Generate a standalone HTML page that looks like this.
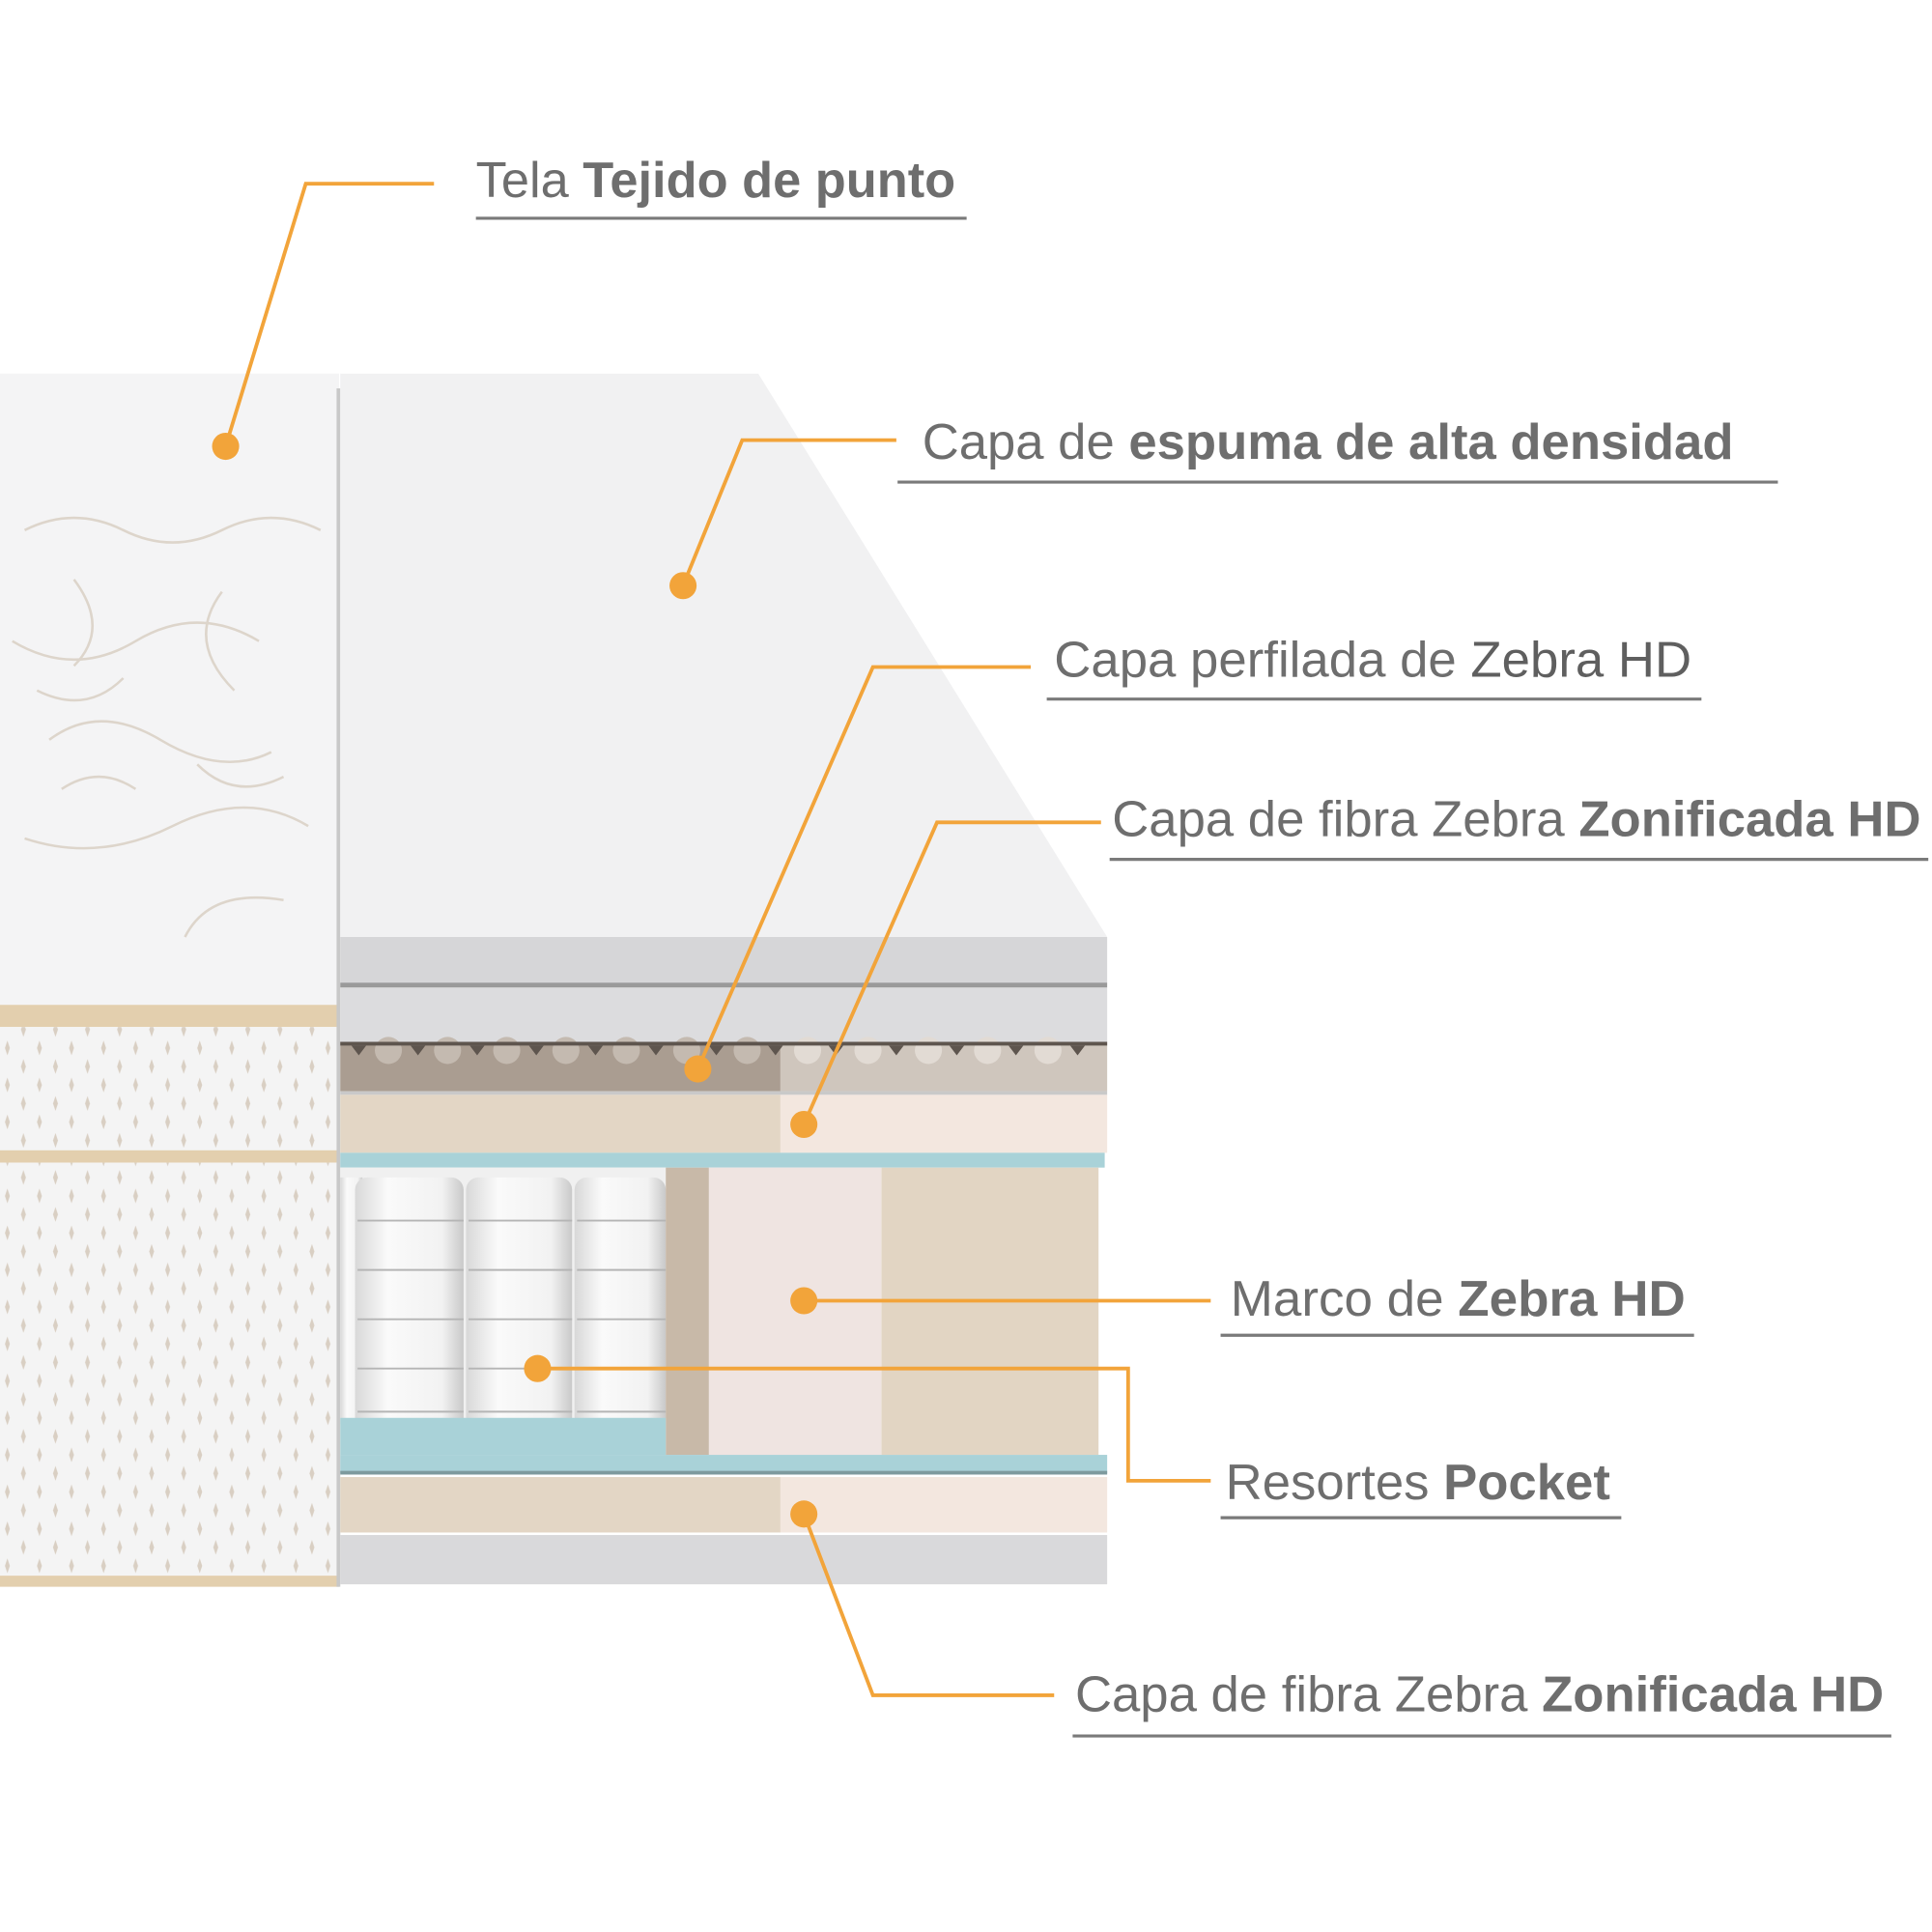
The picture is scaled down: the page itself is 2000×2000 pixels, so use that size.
<!DOCTYPE html>
<html><head><meta charset="utf-8"><style>
html,body{margin:0;padding:0;background:#fff}
svg{display:block}
text{font-family:"Liberation Sans",sans-serif;fill:#6e6e6e;font-size:41px}
.b{font-weight:bold}
</style></head><body>
<svg width="2000" height="2000" viewBox="0 0 1567 1567" xmlns="http://www.w3.org/2000/svg">
<defs>
<pattern id="mesh" width="26" height="30" patternUnits="userSpaceOnUse">
<rect width="26" height="30" fill="#f4f4f4"/>
<path d="M6 4 l2 6 l-2 6 l-2 -6z" fill="#d9cfc3"/>
<path d="M19 19 l2 6 l-2 6 l-2 -6z" fill="#d9cfc3"/>
<path d="M19 -11 l2 6 l-2 6 l-2 -6z" fill="#d9cfc3"/>
</pattern>
<linearGradient id="sp" x1="0" x2="1">
<stop offset="0" stop-color="#d8d8d8"/><stop offset="0.3" stop-color="#fafafa"/><stop offset="0.8" stop-color="#f2f2f2"/><stop offset="1" stop-color="#c9c9c9"/>
</linearGradient>
</defs>
<rect width="1567" height="1567" fill="#fff"/>
<!-- left quilted -->
<rect x="0" y="303" width="275" height="512" fill="#f4f4f5"/>
<g fill="none" stroke="#ddd5cb" stroke-width="2">
<path d="M20 430 q40 -20 80 0 t80 0 t80 0"/><path d="M10 520 q50 30 100 0 t100 0"/>
<path d="M40 600 q40 -30 90 0 t90 10"/><path d="M20 680 q60 20 120 -10 t110 0"/>
<path d="M60 470 q30 40 0 70"/><path d="M180 480 q-30 40 10 80"/><path d="M150 760 q20 -40 80 -30"/>
<path d="M30 560 q40 20 70 -10"/><path d="M160 620 q30 30 70 10"/><path d="M50 640 q30 -20 60 0"/>
</g>
<rect x="0" y="815" width="275" height="18" fill="#e3cfae"/>
<rect x="0" y="833" width="275" height="102" fill="url(#mesh)"/>
<rect x="0" y="933" width="275" height="10" fill="#e3cfae"/>
<rect x="0" y="943" width="275" height="337" fill="url(#mesh)"/>
<rect x="0" y="1278" width="275" height="9" fill="#e3cfae"/>
<rect x="273" y="315" width="3" height="972" fill="#c8c8c8"/>
<!-- trapezoid -->
<polygon points="276,303 615,303 898,760 276,760" fill="#f1f1f2"/>
<rect x="276" y="760" width="622" height="37" fill="#d6d6d8"/>
<rect x="276" y="797" width="622" height="4" fill="#9a9a9a"/>
<rect x="276" y="801" width="622" height="44" fill="#dcdcde"/>
<rect x="276" y="845" width="357" height="40" fill="#aa9d91"/>
<rect x="633" y="845" width="265" height="40" fill="#cfc6bd"/>
<g fill="#c4bab0">
<circle cx="315" cy="852" r="11"/><circle cx="363" cy="852" r="11"/><circle cx="411" cy="852" r="11"/><circle cx="459" cy="852" r="11"/><circle cx="508" cy="852" r="11"/><circle cx="557" cy="852" r="11"/><circle cx="606" cy="852" r="11"/>
</g>
<g fill="#e2dbd4">
<circle cx="655" cy="852" r="11"/><circle cx="704" cy="852" r="11"/><circle cx="753" cy="852" r="11"/><circle cx="801" cy="852" r="11"/><circle cx="850" cy="852" r="11"/>
</g>
<g fill="#5e554e">
<path d="M276 845 h622 v3 h-622z"/>
<path d="M285 848 l6 8 l6 -8z M333 848 l6 8 l6 -8z M381 848 l6 8 l6 -8z M429 848 l6 8 l6 -8z M477 848 l6 8 l6 -8z M526 848 l6 8 l6 -8z M575 848 l6 8 l6 -8z M623 848 l6 8 l6 -8z M672 848 l6 8 l6 -8z M721 848 l6 8 l6 -8z M770 848 l6 8 l6 -8z M818 848 l6 8 l6 -8z M868 848 l6 8 l6 -8z"/>
</g>
<rect x="276" y="885" width="622" height="3" fill="#c9c9c9"/>
<rect x="276" y="888" width="357" height="47" fill="#e3d6c5"/>
<rect x="633" y="888" width="265" height="47" fill="#f3e7df"/>
<rect x="276" y="935" width="620" height="12" fill="#a9d2d8"/>
<!-- springs -->
<rect x="276" y="947" width="264" height="233" fill="#f0f0f0"/>
<g>
<rect x="276" y="955" width="18" height="200" fill="url(#sp)"/>
<rect x="288" y="955" width="88" height="205" rx="10" fill="url(#sp)"/>
<rect x="378" y="955" width="86" height="205" rx="10" fill="url(#sp)"/>
<rect x="466" y="955" width="74" height="205" rx="10" fill="url(#sp)"/>
</g>
<g stroke="#b5b5b5" stroke-width="1.5" fill="none">
<path d="M290 990 h86 M380 990 h84 M468 990 h72"/>
<path d="M290 1030 h86 M380 1030 h84 M468 1030 h72"/>
<path d="M290 1070 h86 M380 1070 h84 M468 1070 h72"/>
<path d="M290 1110 h86 M380 1110 h84 M468 1110 h72"/>
<path d="M290 1145 h86 M380 1145 h84 M468 1145 h72"/>
</g>
<rect x="540" y="947" width="35" height="233" fill="#c8b9a8"/>
<rect x="575" y="947" width="140" height="233" fill="#efe4e1"/>
<rect x="715" y="947" width="176" height="233" fill="#e2d5c3"/>
<rect x="276" y="1150" width="264" height="30" fill="#a9d2d8"/>
<rect x="276" y="1180" width="622" height="15" fill="#a9d2d8"/>
<rect x="276" y="1193" width="622" height="3" fill="#7e9a9e"/>
<rect x="276" y="1198" width="357" height="45" fill="#e3d6c5"/>
<rect x="633" y="1198" width="265" height="45" fill="#f3e7df"/>
<rect x="276" y="1245" width="622" height="40" fill="#d9d9db"/>
<!-- leaders -->
<g stroke="#f2a43a" stroke-width="3" fill="none">
<polyline points="352,149 248,149 183,362"/>
<polyline points="727,357 602,357 554,475"/>
<polyline points="836,541 708,541 566,867"/>
<polyline points="893,667 760,667 652,912"/>
<polyline points="982,1055 652,1055"/>
<polyline points="436,1110 915,1110 915,1201 982,1201"/>
<polyline points="652,1228 708,1375 855,1375"/>
</g>
<g fill="#f2a43a">
<circle cx="183" cy="362" r="11"/><circle cx="554" cy="475" r="11"/><circle cx="566" cy="867" r="11"/>
<circle cx="652" cy="912" r="11"/><circle cx="652" cy="1055" r="11"/><circle cx="436" cy="1110" r="11"/><circle cx="652" cy="1228" r="11"/>
</g>
<!-- underlines -->
<g stroke="#7a7a7a" stroke-width="2.5">
<line x1="386" y1="177" x2="784" y2="177"/>
<line x1="728" y1="391" x2="1442" y2="391"/>
<line x1="849" y1="567" x2="1380" y2="567"/>
<line x1="900" y1="697" x2="1564" y2="697"/>
<line x1="990" y1="1083" x2="1374" y2="1083"/>
<line x1="990" y1="1231" x2="1315" y2="1231"/>
<line x1="870" y1="1408" x2="1534" y2="1408"/>
</g>
<!-- labels -->
<text x="386" y="160" textLength="389" lengthAdjust="spacingAndGlyphs">Tela <tspan class="b">Tejido de punto</tspan></text>
<text x="748" y="372" textLength="658" lengthAdjust="spacingAndGlyphs">Capa de <tspan class="b">espuma de alta densidad</tspan></text>
<text x="855" y="549" textLength="517" lengthAdjust="spacingAndGlyphs">Capa perfilada de <tspan style="fill:#5f5f5f">Zebra HD</tspan></text>
<text x="902" y="678" textLength="656" lengthAdjust="spacingAndGlyphs">Capa de fibra Zebra <tspan class="b">Zonificada HD</tspan></text>
<text x="998" y="1067" textLength="369" lengthAdjust="spacingAndGlyphs">Marco de <tspan class="b">Zebra HD</tspan></text>
<text x="994" y="1216" textLength="312" lengthAdjust="spacingAndGlyphs">Resortes <tspan class="b">Pocket</tspan></text>
<text x="872" y="1388" textLength="656" lengthAdjust="spacingAndGlyphs">Capa de fibra Zebra <tspan class="b">Zonificada HD</tspan></text>
</svg>
</body></html>
